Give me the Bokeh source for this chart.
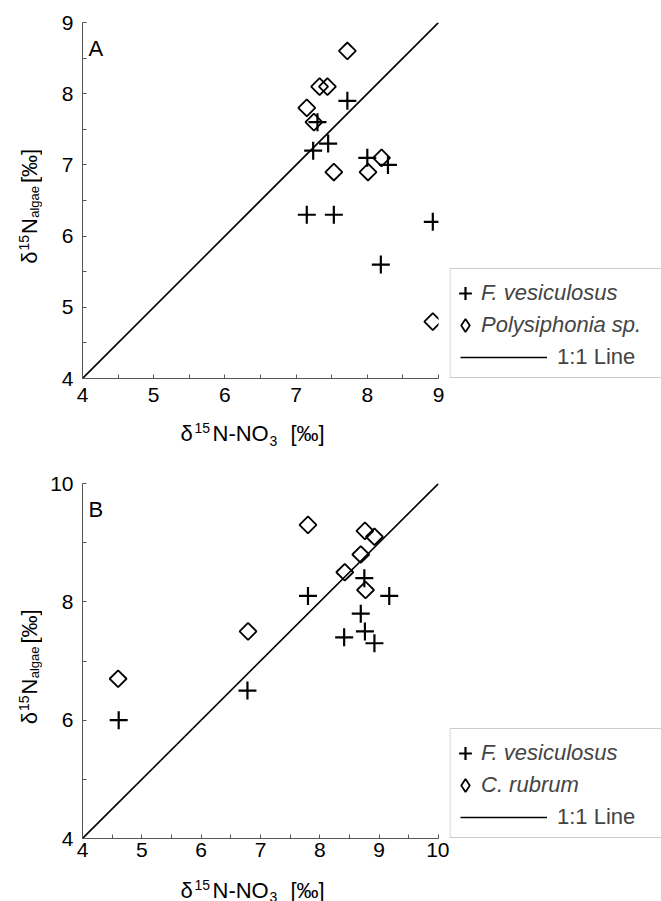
import numpy as np
from bokeh.plotting import figure
from bokeh.models import Range1d, FixedTicker, Legend, LegendItem, Label, BoxAnnotation
from bokeh.layouts import column, row
from bokeh.embed import file_html
from bokeh.resources import INLINE

FONT = "Liberation Sans"

# ---------------- data ----------------
# Panel A
a_fves_x = [7.72, 7.30, 7.45, 7.24, 8.00, 8.29, 7.15, 7.53, 8.92, 8.19]
a_fves_y = [7.9, 7.6, 7.3, 7.2, 7.1, 7.0, 6.3, 6.3, 6.2, 5.6]
a_poly_x = [7.72, 7.33, 7.44, 7.15, 7.25, 7.53, 8.01, 8.20, 8.92]
a_poly_y = [8.6, 8.1, 8.1, 7.8, 7.6, 6.9, 6.9, 7.1, 4.8]
a_line = [4, 9]
# Panel B
b_fves_x = [4.61, 6.78, 7.80, 8.75, 9.17, 8.69, 8.41, 8.76, 8.92]
b_fves_y = [6.0, 6.5, 8.1, 8.4, 8.1, 7.8, 7.4, 7.5, 7.3]
b_crub_x = [4.60, 6.79, 7.80, 8.76, 8.92, 8.69, 8.42, 8.77]
b_crub_y = [6.7, 7.5, 9.3, 9.2, 9.1, 8.8, 8.5, 8.2]
b_line = [4, 10]

a_xticks = [4, 5, 6, 7, 8, 9]
a_yticks = [4, 5, 6, 7, 8, 9]
b_xticks = [4, 5, 6, 7, 8, 9, 10]
b_yticks = [4, 6, 8, 10]

FW = 356          # frame width (px)
TOP = 22          # space above frame
YT_W = 42         # width of the y-title strip
LEFT = 40         # main figure left border
RIGHT = 11        # main figure right border
LEG_W = 661 - YT_W - LEFT - FW - RIGHT

CROSS = dict(marker="cross", line_width=2.2, line_color="black")
DIAM = dict(marker="square", angle=np.pi / 4, line_width=1.8, line_color="black",
            fill_color=None)
DIAM_LEG = dict(marker="diamond", line_width=1.8, line_color="black", fill_color=None)


def strip(w, h, fh, top, bot):
    """Axis-less figure; its frame coordinates are pixels (y from frame bottom)."""
    f = figure(width=w, height=h, output_backend="svg", toolbar_location=None,
               x_range=Range1d(0, w), y_range=Range1d(0, fh),
               x_axis_type=None, y_axis_type=None,
               min_border_left=0, min_border_right=0, min_border_top=top,
               min_border_bottom=bot)
    f.outline_line_color = None
    f.grid.visible = False
    return f


def lab(f, s, x, y, size, angle=0.0, style="normal"):
    f.add_layout(Label(x=x, y=y, text=s, text_font=FONT, text_font_size=size,
                       text_font_style=style, text_color="black", angle=angle,
                       text_baseline="alphabetic", text_align="left"))


def panel(letter, fx, fy, dx_, dy_, name2, line, xticks, yticks, ystep_minor, fh,
          bot, standoff, total_h, title_drop, sub_off):
    lo, hi = line
    h = TOP + fh + bot
    xt_h = total_h - h
    p = figure(width=LEFT + FW + RIGHT, height=h, output_backend="svg",
               toolbar_location=None, x_range=Range1d(lo, hi), y_range=Range1d(lo, hi),
               min_border_left=LEFT, min_border_right=RIGHT, min_border_top=TOP,
               min_border_bottom=bot)
    p.grid.visible = False
    p.outline_line_color = None

    xminor = [t + 0.5 for t in xticks[:-1]]
    yminor = [t + ystep_minor for t in yticks[:-1]]
    p.xaxis.ticker = FixedTicker(ticks=xticks, minor_ticks=xminor)
    p.yaxis.ticker = FixedTicker(ticks=yticks, minor_ticks=yminor)
    for ax in (p.xaxis[0], p.yaxis[0]):
        ax.axis_line_color = "#555555"
        ax.major_tick_line_color = "#555555"
        ax.minor_tick_line_color = "#555555"
        ax.major_tick_in = 4
        ax.major_tick_out = 0
        ax.minor_tick_in = 4
        ax.minor_tick_out = 0
        ax.major_label_text_font = FONT
        ax.major_label_text_font_size = "21px"
        ax.major_label_text_color = "black"
    p.xaxis.major_label_standoff = standoff
    p.yaxis.major_label_standoff = 9

    p.line(line, line, line_color="black", line_width=1.6)
    p.scatter(fx, fy, size=18, **CROSS)
    p.scatter(dx_, dy_, size=12, **DIAM)

    # panel letter (inside frame)
    p.add_layout(Label(x=lo + 6 * (hi - lo) / FW, y=hi - 26 * (hi - lo) / fh,
                       text=letter, text_font=FONT, text_font_size="22px",
                       text_color="black", text_baseline="alphabetic"))

    # ---- y title strip ----
    yt = strip(YT_W, h, fh, TOP, bot)
    c = fh / 2.0
    for s, px, dy, size in [("δ", 29, -63.3, "22px"), ("15", 23, -50.0, "14px"),
                            ("N", 29, -33.5, "22px"), ("algae", 34, -17.3, "13px"),
                            ("[‰]", 29, 17.5, "22px")]:
        lab(yt, s, px, c + dy, size, angle=np.pi / 2)

    # ---- legend strip ----
    lg = strip(LEG_W, h, fh, TOP, bot)
    box_bot = 1
    box_top = box_bot + 109
    lg.add_layout(BoxAnnotation(left=0.5, right=LEG_W + 50, bottom=box_bot, top=box_top,
                                fill_color=None, line_color="#555555", line_width=1))
    # hidden twins of the plotted renderers, used only for the legend glyphs
    rc = lg.scatter(fx, fy, size=18, visible=False, **CROSS)
    rd = lg.scatter(dx_, dy_, size=12, visible=False, **DIAM_LEG)
    rl = lg.line(line, line, line_color="black", line_width=1.6, visible=False)
    common = dict(padding=0, spacing=0, margin=0, border_line_color=None,
                  background_fill_alpha=0, label_text_font=FONT,
                  label_text_font_size="22px", label_height=32, glyph_height=32)
    lg.add_layout(Legend(items=[LegendItem(label="F. vesiculosus", renderers=[rc])],
                         location=(0, box_top - 25 - 16), glyph_width=32,
                         label_standoff=0, label_text_font_style="italic", **common))
    lg.add_layout(Legend(items=[LegendItem(label=name2, renderers=[rd])],
                         location=(0, box_top - 57 - 16), glyph_width=32,
                         label_standoff=0, label_text_font_style="italic", **common))
    lg.add_layout(Legend(items=[LegendItem(label="1:1 Line", renderers=[rl])],
                         location=(11, box_top - 89 - 16), glyph_width=87,
                         label_standoff=10, **common))

    # ---- x title strip ----
    xt = strip(661, xt_h, xt_h, 0, 0)
    base = xt_h - (title_drop - bot)
    for s, px, off, size in [("δ", 180, 0, "22px"), ("15", 194, 6, "14px"),
                             ("N-NO", 212, 0, "22px"), ("3", 269, sub_off, "14px"),
                             ("[‰]", 290, 0, "22px")]:
        lab(xt, s, px, base + off, size)

    return column(row(yt, p, lg, spacing=0), xt, spacing=0)


pa = panel("A", a_fves_x, a_fves_y, a_poly_x, a_poly_y, "Polysiphonia sp.", a_line,
           a_xticks, a_yticks, 0.5, 356, 36, 9, 461, 55, -7)
pb = panel("B", b_fves_x, b_fves_y, b_crub_x, b_crub_y, "C. rubrum", b_line,
           b_xticks, b_yticks, 1, 355, 30, 4, 440, 52, -6)

layout = column(pa, pb, spacing=0)
open("out.html", "w").write(file_html(layout, INLINE))
